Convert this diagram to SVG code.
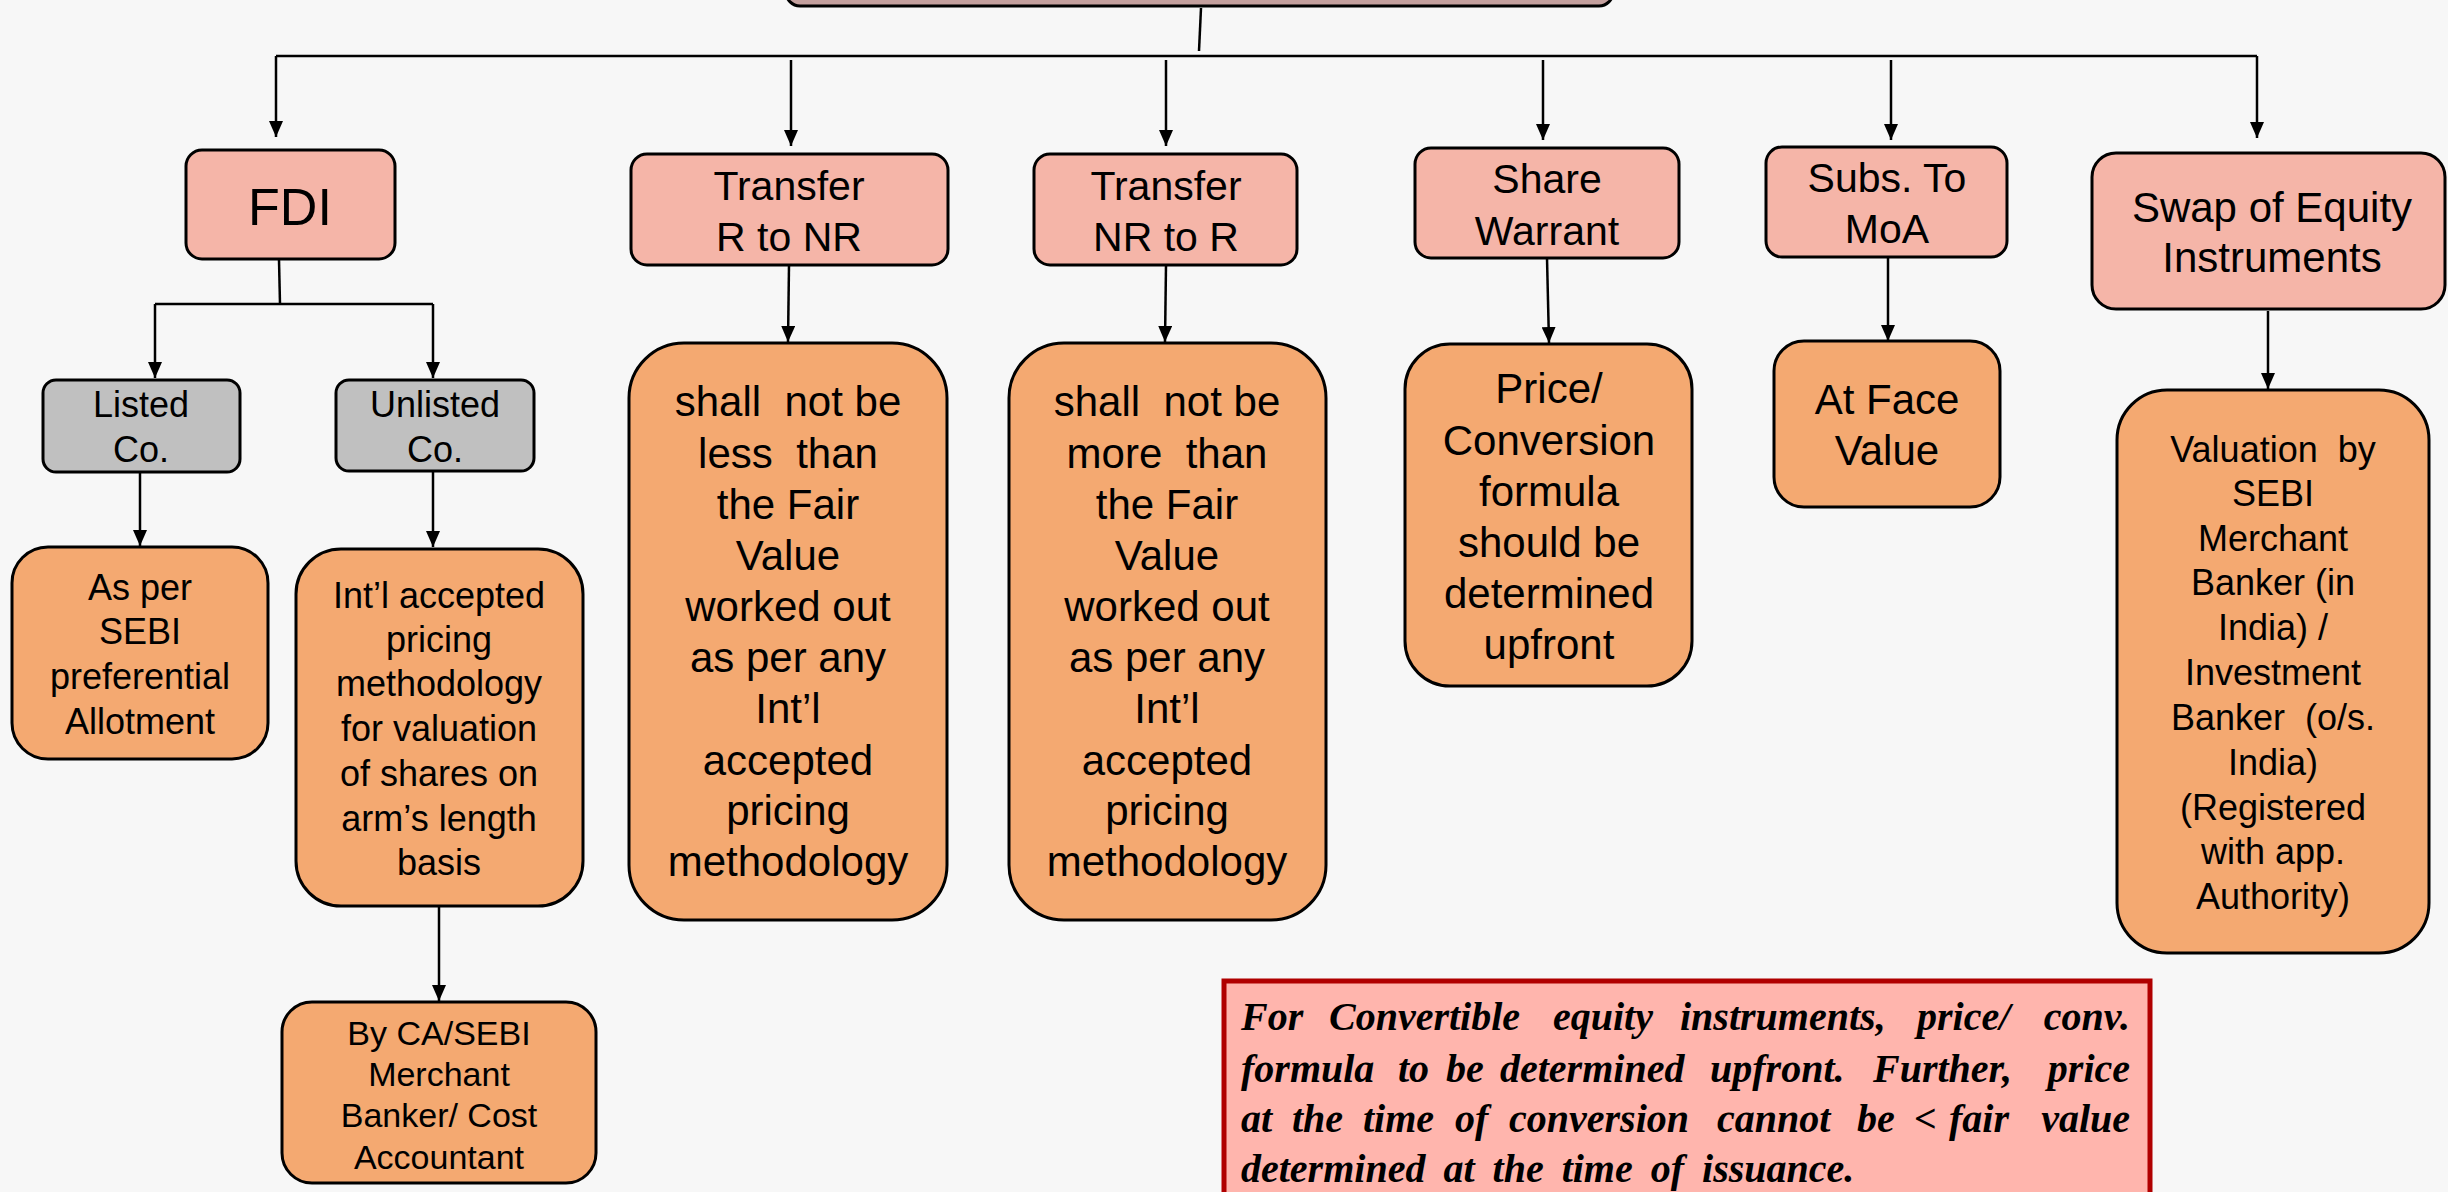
<svg xmlns="http://www.w3.org/2000/svg" width="2448" height="1192" viewBox="0 0 2448 1192">
  <defs>
    <marker id="arrow" markerUnits="userSpaceOnUse" markerWidth="16" markerHeight="14" refX="16" refY="7" orient="auto">
      <path d="M0,0 L16,7 L0,14 z" fill="#000"/>
    </marker>
    <style>
      .bg { fill: #F7F7F7; }
      .box { stroke: #000; stroke-width: 3; }
      .pink { fill: #F5B5A8; }
      .orange { fill: #F4A971; }
      .grey { fill: #C0C0C0; }
      .root { fill: #C4A09E; }
      .note { fill: #FFB5AD; stroke: #B00000; stroke-width: 5; }
      .lbl { font-family: "Liberation Sans", Arial, sans-serif; fill: #000; text-anchor: middle; white-space: pre; }
      .serif { font-family: "Liberation Serif", "Times New Roman", serif; font-weight: bold; font-style: italic; font-size: 40px; fill: #000; }
      .end { text-anchor: end; }
      .conn { fill: none; stroke: #000; stroke-width: 2.5; }
      .arr { fill: none; stroke: #000; stroke-width: 2.5; marker-end: url(#arrow); }
    </style>
  </defs>

  <rect class="bg" x="0" y="0" width="2448" height="1192"/>

  <!-- connectors -->
  <g id="connectors">
    <path class="conn" d="M1201,8 L1199,51"/>
    <path class="conn" d="M276,56 H2257"/>
    <path class="arr" d="M276,56 V137"/>
    <path class="arr" d="M2257,56 V138"/>
    <path class="arr" d="M791,60 V146"/>
    <path class="arr" d="M1166,60 V146"/>
    <path class="arr" d="M1543,60 V140"/>
    <path class="arr" d="M1891,60 V140"/>
    <path class="conn" d="M279,260 L280,304"/>
    <path class="conn" d="M155,304 H433"/>
    <path class="arr" d="M155,304 V378"/>
    <path class="arr" d="M433,304 V378"/>
    <path class="arr" d="M140,472 V546"/>
    <path class="arr" d="M433,471 V547"/>
    <path class="arr" d="M439,906 V1001"/>
    <path class="arr" d="M789,265 L788,342"/>
    <path class="arr" d="M1166,265 L1165,342"/>
    <path class="arr" d="M1547,258 L1549,343"/>
    <path class="arr" d="M1888,257 V341"/>
    <path class="arr" d="M2268,311 V389"/>
  </g>

  <!-- root node (cut at the top edge) -->
  <g id="root">
    <rect class="box root" x="786" y="-40" width="827" height="46" rx="14"/>
  </g>

  <g id="fdi">
    <rect class="box pink" x="186" y="150" width="209" height="109" rx="16"/>
    <text class="lbl" x="290" y="225" font-size="52">FDI</text>
  </g>

  <g id="transfer-r-nr">
    <rect class="box pink" x="631" y="154" width="317" height="111" rx="16"/>
    <text class="lbl" font-size="41"><tspan x="789" y="200">Transfer</tspan><tspan x="789" y="251">R to NR</tspan></text>
  </g>

  <g id="transfer-nr-r">
    <rect class="box pink" x="1034" y="154" width="263" height="111" rx="16"/>
    <text class="lbl" font-size="41"><tspan x="1166" y="200">Transfer</tspan><tspan x="1166" y="251">NR to R</tspan></text>
  </g>

  <g id="share-warrant">
    <rect class="box pink" x="1415" y="148" width="264" height="110" rx="16"/>
    <text class="lbl" font-size="41"><tspan x="1547" y="193">Share</tspan><tspan x="1547" y="245">Warrant</tspan></text>
  </g>

  <g id="subs-moa">
    <rect class="box pink" x="1766" y="147" width="241" height="110" rx="16"/>
    <text class="lbl" font-size="41"><tspan x="1887" y="192">Subs. To</tspan><tspan x="1887" y="243">MoA</tspan></text>
  </g>

  <g id="swap">
    <rect class="box pink" x="2092" y="153" width="353" height="156" rx="24"/>
    <text class="lbl" font-size="42"><tspan x="2272" y="222">Swap of Equity</tspan><tspan x="2272" y="272">Instruments</tspan></text>
  </g>

  <g id="listed">
    <rect class="box grey" x="43" y="380" width="197" height="92" rx="13"/>
    <text class="lbl" font-size="36"><tspan x="141" y="417">Listed</tspan><tspan x="141" y="462">Co.</tspan></text>
  </g>

  <g id="unlisted">
    <rect class="box grey" x="336" y="380" width="198" height="91" rx="13"/>
    <text class="lbl" font-size="36"><tspan x="435" y="417">Unlisted</tspan><tspan x="435" y="462">Co.</tspan></text>
  </g>

  <g id="sebi-preferential">
    <rect class="box orange" x="12" y="547" width="256" height="212" rx="36"/>
    <text class="lbl" font-size="36"><tspan x="140" y="600">As per</tspan><tspan x="140" y="644">SEBI</tspan><tspan x="140" y="689">preferential</tspan><tspan x="140" y="734">Allotment</tspan></text>
  </g>

  <g id="intl-pricing">
    <rect class="box orange" x="296" y="549" width="287" height="357" rx="45"/>
    <text class="lbl" font-size="36"><tspan x="439" y="608">Int’l accepted</tspan><tspan x="439" y="652">pricing</tspan><tspan x="439" y="696">methodology</tspan><tspan x="439" y="741">for valuation</tspan><tspan x="439" y="786">of shares on</tspan><tspan x="439" y="831">arm’s length</tspan><tspan x="439" y="875">basis</tspan></text>
  </g>

  <g id="valuer">
    <rect class="box orange" x="282" y="1002" width="314" height="181" rx="30"/>
    <text class="lbl" font-size="34"><tspan x="439" y="1045">By CA/SEBI</tspan><tspan x="439" y="1086">Merchant</tspan><tspan x="439" y="1127">Banker/ Cost</tspan><tspan x="439" y="1169">Accountant</tspan></text>
  </g>

  <g id="not-less">
    <rect class="box orange" x="629" y="343" width="318" height="577" rx="55"/>
    <text class="lbl" font-size="42"><tspan x="788" y="416">shall  not be</tspan><tspan x="788" y="468">less  than</tspan><tspan x="788" y="519">the Fair</tspan><tspan x="788" y="570">Value</tspan><tspan x="788" y="621">worked out</tspan><tspan x="788" y="672">as per any</tspan><tspan x="788" y="723">Int’l</tspan><tspan x="788" y="775">accepted</tspan><tspan x="788" y="825">pricing</tspan><tspan x="788" y="876">methodology</tspan></text>
  </g>

  <g id="not-more">
    <rect class="box orange" x="1009" y="343" width="317" height="577" rx="55"/>
    <text class="lbl" font-size="42"><tspan x="1167" y="416">shall  not be</tspan><tspan x="1167" y="468">more  than</tspan><tspan x="1167" y="519">the Fair</tspan><tspan x="1167" y="570">Value</tspan><tspan x="1167" y="621">worked out</tspan><tspan x="1167" y="672">as per any</tspan><tspan x="1167" y="723">Int’l</tspan><tspan x="1167" y="775">accepted</tspan><tspan x="1167" y="825">pricing</tspan><tspan x="1167" y="876">methodology</tspan></text>
  </g>

  <g id="price-formula">
    <rect class="box orange" x="1405" y="344" width="287" height="342" rx="45"/>
    <text class="lbl" font-size="42"><tspan x="1549" y="403">Price/</tspan><tspan x="1549" y="455">Conversion</tspan><tspan x="1549" y="506">formula</tspan><tspan x="1549" y="557">should be</tspan><tspan x="1549" y="608">determined</tspan><tspan x="1549" y="659">upfront</tspan></text>
  </g>

  <g id="face-value">
    <rect class="box orange" x="1774" y="341" width="226" height="166" rx="30"/>
    <text class="lbl" font-size="42"><tspan x="1887" y="414">At Face</tspan><tspan x="1887" y="465">Value</tspan></text>
  </g>

  <g id="swap-valuation">
    <rect class="box orange" x="2117" y="390" width="312" height="563" rx="50"/>
    <text class="lbl" font-size="36"><tspan x="2273" y="462">Valuation  by</tspan><tspan x="2273" y="506">SEBI</tspan><tspan x="2273" y="551">Merchant</tspan><tspan x="2273" y="595">Banker (in</tspan><tspan x="2273" y="640">India) /</tspan><tspan x="2273" y="685">Investment</tspan><tspan x="2273" y="730">Banker  (o/s.</tspan><tspan x="2273" y="775">India)</tspan><tspan x="2273" y="820">(Registered</tspan><tspan x="2273" y="864">with app.</tspan><tspan x="2273" y="909">Authority)</tspan></text>
  </g>

  <!-- note on convertible instruments (justified lines, last word flush right) -->
  <g id="convertible-note">
    <rect class="note" x="1224" y="981" width="926" height="240"/>
    <text class="serif" y="1030"><tspan x="1241">For</tspan><tspan x="1329">Convertible</tspan><tspan x="1553">equity</tspan><tspan x="1680">instruments,</tspan><tspan x="1917">price/</tspan></text>
    <text class="serif end" x="2130" y="1030">conv.</text>
    <text class="serif" y="1082"><tspan x="1241">formula</tspan><tspan x="1398">to</tspan><tspan x="1446">be</tspan><tspan x="1500">determined</tspan><tspan x="1710">upfront.</tspan><tspan x="1873">Further,</tspan></text>
    <text class="serif end" x="2130" y="1082">price</text>
    <text class="serif" y="1132"><tspan x="1241">at</tspan><tspan x="1292">the</tspan><tspan x="1363">time</tspan><tspan x="1455">of</tspan><tspan x="1509">conversion</tspan><tspan x="1717">cannot</tspan><tspan x="1857">be</tspan><tspan x="1914">&lt;</tspan><tspan x="1949">fair</tspan></text>
    <text class="serif end" x="2130" y="1132">value</text>
    <text class="serif" x="1241" y="1182" word-spacing="8">determined at the time of issuance.</text>
  </g>
</svg>
